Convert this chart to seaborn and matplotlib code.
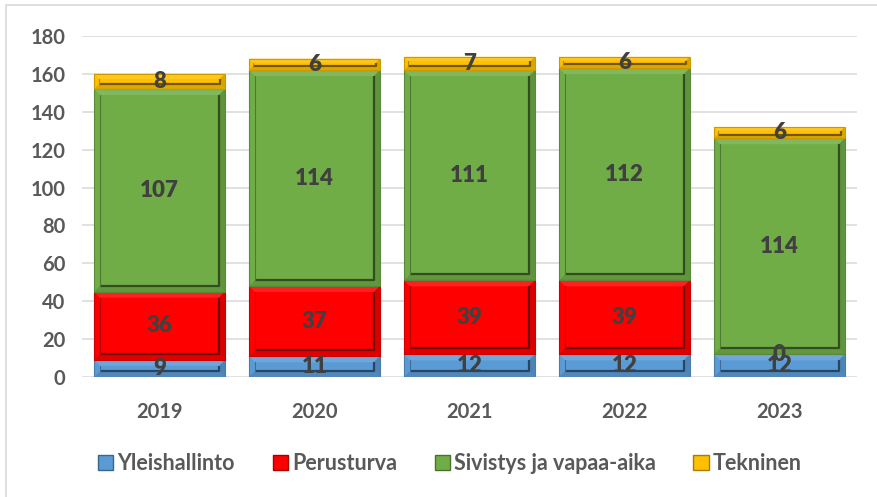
import matplotlib
matplotlib.use("Agg")
import matplotlib.pyplot as plt
import seaborn as sns
import numpy as np
import pandas as pd
from matplotlib.patches import Polygon, Rectangle, Patch
from matplotlib.colors import to_rgb

years = ["2019", "2020", "2021", "2022", "2023"]
series = ["Yleishallinto", "Perusturva", "Sivistys ja vapaa-aika", "Tekninen"]
yleishallinto = [9, 11, 12, 12, 12]
perusturva = [36, 37, 39, 39, 0]
sivistys = [107, 114, 111, 112, 114]
tekninen = [8, 6, 7, 6, 6]
colors = ["#5B9BD5", "#FF0000", "#70AD47", "#FFC000"]
yticks = [0, 20, 40, 60, 80, 100, 120, 140, 160, 180]

sns.set_theme(style="white")
plt.rcParams['font.family'] = ['Lato', 'DejaVu Sans']

TXT = "#595959"
LBL = "#404040"


def mix(c, other, t):
    c = np.array(to_rgb(c)); o = np.array(to_rgb(other))
    return tuple(c * (1 - t) + o * t)


fig = plt.figure(figsize=(8.77, 4.97), dpi=100)
ax = fig.add_axes([0.0935, 0.2414, 0.8835, 0.6862])

values = [yleishallinto, perusturva, sivistys, tekninen]
cum = np.cumsum(np.array(values, dtype=float), axis=0)

layer_patches = {}
for i in reversed(range(len(series))):
    df = pd.DataFrame({"year": years, "value": cum[i]})
    n0 = len(ax.patches)
    sns.barplot(data=df, x="year", y="value", color=colors[i], width=0.845,
                saturation=1, ax=ax, zorder=2, linewidth=0, errorbar=None)
    layer_patches[i] = ax.patches[n0:n0 + len(years)]

ax.set_ylim(0, 180)
ax.set_xlim(-0.5, len(years) - 0.5)
ax.set_yticks(yticks)
ax.set_xlabel("")
ax.set_ylabel("")
for s in ax.spines.values():
    s.set_visible(False)
ax.yaxis.grid(True, color="#D9D9D9", linewidth=1.1)
ax.set_axisbelow(True)
ax.tick_params(axis="both", length=0, labelsize=14.5, colors=TXT)
ax.tick_params(axis="y", pad=12)
ax.tick_params(axis="x", pad=18)
for lab in ax.get_xticklabels() + ax.get_yticklabels():
    lab.set_fontweight("bold")
    lab.set_color(TXT)

fig.canvas.draw()
p0 = ax.transData.transform((0, 0))
p1 = ax.transData.transform((1, 1))
px_x = p1[0] - p0[0]
px_y = p1[1] - p0[1]

for i in range(len(series)):
    for j, p in enumerate(layer_patches[i]):
        x0 = p.get_x(); x1 = x0 + p.get_width()
        y1 = cum[i][j]
        y0 = cum[i - 1][j] if i > 0 else 0.0
        h_px = (y1 - y0) * px_y
        if h_px > 0.5:
            w = min(6.0, h_px / 3.0)
            dx = w / px_x
            dy = w / px_y
            c = colors[i]
            top = [(x0, y1), (x1, y1), (x1 - dx, y1 - dy), (x0 + dx, y1 - dy)]
            bot = [(x0, y0), (x1, y0), (x1 - dx, y0 + dy), (x0 + dx, y0 + dy)]
            right = [(x1, y0), (x1, y1), (x1 - dx, y1 - dy), (x1 - dx, y0 + dy)]
            ax.add_patch(Polygon(top, closed=True, facecolor=mix(c, "white", 0.12),
                                 edgecolor="none", zorder=3))
            ax.add_patch(Polygon(bot, closed=True, facecolor=mix(c, "black", 0.12),
                                 edgecolor="none", zorder=3))
            ax.add_patch(Polygon(right, closed=True, facecolor=mix(c, "black", 0.15),
                                 edgecolor="none", zorder=3))
            ax.plot([x1 - dx, x1 - dx, x0 + dx], [y1 - dy, y0 + dy, y0 + dy],
                    color=mix(c, "black", 0.55), linewidth=1.6, zorder=3.5,
                    solid_capstyle="butt")
            ax.plot([x0 + dx, x0 + dx], [y0 + dy, y1 - dy],
                    color=mix(c, "black", 0.3), linewidth=0.8, zorder=3.5)
            ax.add_patch(Rectangle((x0, y0), x1 - x0, y1 - y0, fill=False,
                                   edgecolor=mix(c, "black", 0.2), linewidth=0.8,
                                   zorder=3.6))
        ax.text((x0 + x1) / 2, (y0 + y1) / 2, str(values[i][j]), ha="center",
                va="center", fontsize=16, fontweight="heavy", color=LBL, zorder=5)

handles = [Patch(facecolor=colors[i], edgecolor=mix(colors[i], "black", 0.35),
                 linewidth=1.0, label=series[i]) for i in range(len(series))]
leg = fig.legend(handles=handles, loc="center", bbox_to_anchor=(0.513, 0.068),
                 ncol=4, frameon=False, fontsize=15.5, handlelength=0.7,
                 handleheight=0.7, handletextpad=0.2, columnspacing=1.75)
for t in leg.get_texts():
    t.set_fontweight("bold")
    t.set_color(TXT)

fig.patches.append(Rectangle((6 / 877, -0.05), 1.2, 1 - 5 / 497 + 0.05,
                             transform=fig.transFigure, fill=False,
                             edgecolor="#D9D9D9", linewidth=1.2))

fig.savefig("out.png", dpi=100)
